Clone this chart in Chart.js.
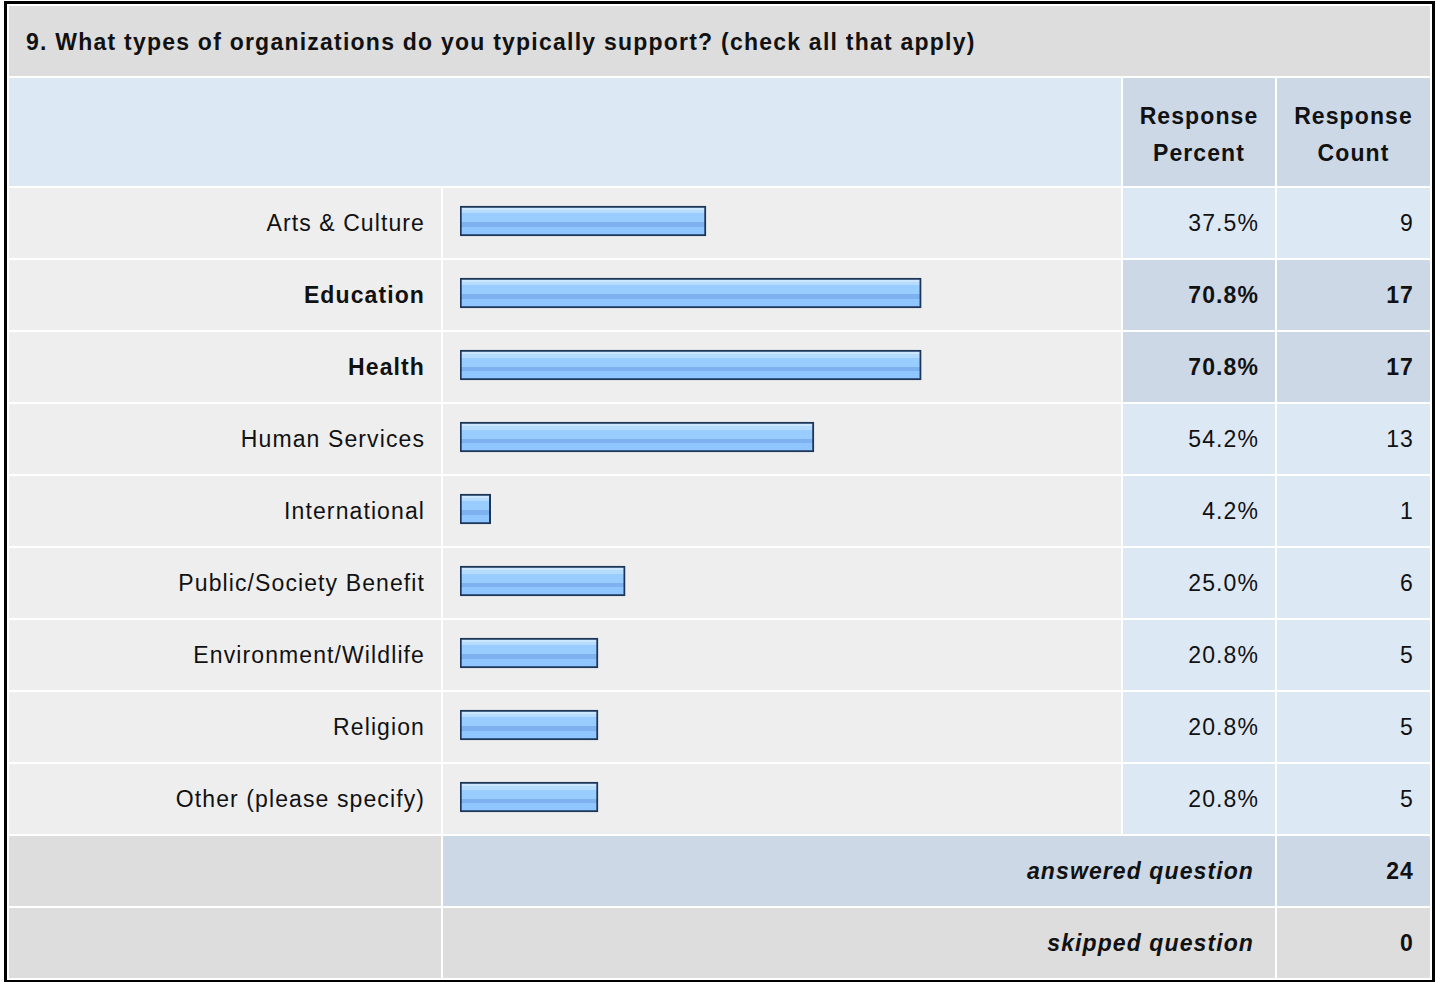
<!DOCTYPE html>
<html>
<head>
<meta charset="utf-8">
<script src="https://cdn.jsdelivr.net/npm/chart.js@4.4.1/dist/chart.umd.min.js"></script>
<style>
  html, body { margin: 0; padding: 0; background: #fff; }
  body { width: 1437px; height: 982px; position: relative; overflow: hidden;
         font-family: "Liberation Sans", Arial, sans-serif; font-size: 23px; letter-spacing: 1.1px; color: #111; }
  #grid {
    position: absolute; left: 4px; top: 1px;
    border: 3px solid #000; padding: 2px; background: #fff;
    display: grid;
    grid-template-columns: 432px 678px 152px 153px;
    grid-template-rows: 70px 108px repeat(11, 70px);
    gap: 2px;
  }
  .c { display: flex; align-items: center; box-sizing: border-box; }
  .title { grid-column: 1 / 5; background: #dddddd; font-weight: bold; padding-left: 17px; padding-top: 2px;
           letter-spacing: 1.23px; }
  .hblank { grid-column: 1 / 3; background: #dde8f5; }
  .hcell { background: #ccd8e6; font-weight: bold; justify-content: center; text-align: center;
           line-height: 37px; padding-top: 5px; }
  .lab { background: #eeeeee; justify-content: flex-end; padding-right: 16px; }
  .bar { background: #eeeeee; }
  .num { background: #dde8f5; justify-content: flex-end; padding-right: 16px; }
  .hi { background: #ccd8e6; font-weight: bold; }
  .b { font-weight: bold; }
  .grey { background: #dddddd; }
  .sum { grid-column: 2 / 4; justify-content: flex-end; padding-right: 21px; font-weight: bold; font-style: italic; }
  #wrap { position: absolute; left: 443px; top: 185px; width: 678px; height: 648px; }
</style>
</head>
<body>
<div id="grid"></div>
<div id="wrap"><canvas id="chart"></canvas></div>
<script>
const title = '9. What types of organizations do you typically support? (check all that apply)';
const categories = ['Arts & Culture', 'Education', 'Health', 'Human Services', 'International',
  'Public/Society Benefit', 'Environment/Wildlife', 'Religion', 'Other (please specify)'];
const percents = [37.5, 70.8, 70.8, 54.2, 4.2, 25.0, 20.8, 20.8, 20.8];
const counts = [9, 17, 17, 13, 1, 6, 5, 5, 5];
const answeredCount = 24;
const skippedCount = 0;

const grid = document.getElementById('grid');
function cell(cls, html) {
  const d = document.createElement('div');
  d.className = 'c ' + cls;
  d.innerHTML = html;
  grid.appendChild(d);
  return d;
}

// header
cell('title', title.replace(/&/g, '&amp;'));
cell('hblank', '');
cell('hcell', 'Response<br>Percent');
cell('hcell', 'Response<br>Count');

// rows, the most chosen answers are emphasised
const maxCount = Math.max(...counts);
categories.forEach((name, i) => {
  const hi = counts[i] === maxCount;
  cell('lab' + (hi ? ' b' : ''), name.replace(/&/g, '&amp;'));
  cell('bar', '');
  cell('num' + (hi ? ' hi' : ''), percents[i].toFixed(1) + '%');
  cell('num' + (hi ? ' hi' : ''), String(counts[i]));
});

// totals
cell('grey', '');
const a = cell('sum', 'answered question'); a.style.background = '#ccd8e6';
cell('num hi', String(answeredCount));
cell('grey', '');
cell('sum grey', 'skipped question');
cell('num grey b', String(skippedCount));

// glossy stripes of the bars
function barFill(c) {
  const chart = c.chart;
  if (!chart.chartArea || !chart.scales.y) return '#99ccff';
  const y = chart.scales.y.getPixelForValue(c.dataIndex);
  const g = chart.ctx.createLinearGradient(0, y - 15, 0, y + 15);
  g.addColorStop(0, '#cce6ff');
  g.addColorStop(0.14, '#cce6ff');
  g.addColorStop(0.14, '#b5dbff');
  g.addColorStop(0.25, '#b5dbff');
  g.addColorStop(0.25, '#99ccff');
  g.addColorStop(0.55, '#99ccff');
  g.addColorStop(0.55, '#7db1ef');
  g.addColorStop(0.70, '#7db1ef');
  g.addColorStop(0.70, '#8fc6ff');
  g.addColorStop(1, '#8fc6ff');
  return g;
}

// the bar image has a small fixed lead before the value part
const barStart = -0.55;

new Chart(document.getElementById('chart'), {
  type: 'bar',
  data: {
    labels: categories,
    datasets: [{
      data: percents,
      base: barStart,
      backgroundColor: barFill,
      borderColor: '#1d3559',
      borderWidth: 2,
      borderSkipped: false,
      barThickness: 30
    }]
  },
  options: {
    indexAxis: 'y',
    responsive: true,
    maintainAspectRatio: false,
    animation: false,
    layout: { padding: { left: 17, right: 11, top: 0, bottom: 0 } },
    plugins: { legend: { display: false }, tooltip: { enabled: false } },
    scales: {
      x: { display: false, min: barStart, max: 100 },
      y: { display: false }
    }
  }
});
</script>
</body>
</html>
